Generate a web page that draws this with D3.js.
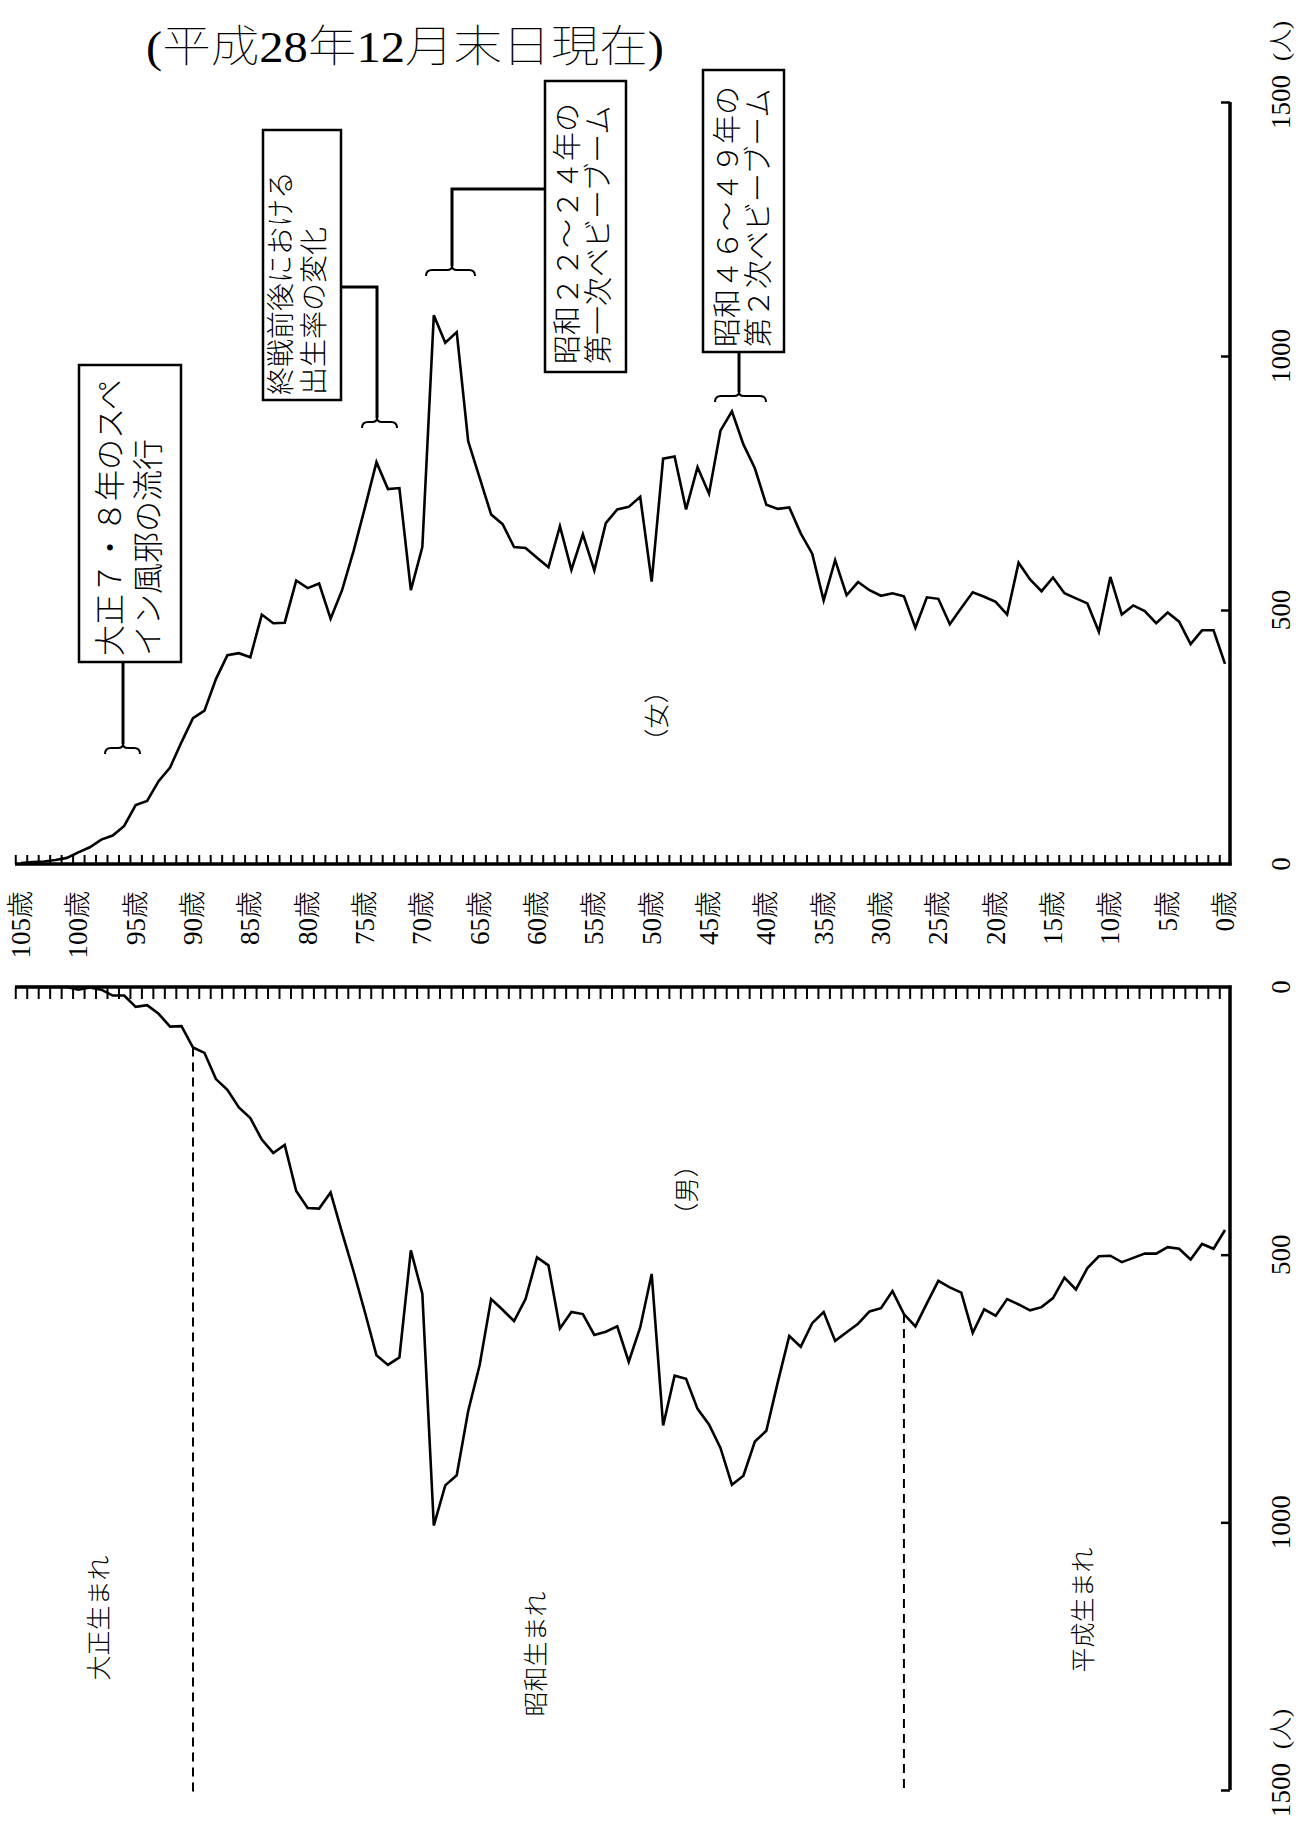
<!DOCTYPE html>
<html>
<head>
<meta charset="utf-8">
<script src="https://cdn.jsdelivr.net/npm/d3@7/dist/d3.min.js"></script>
<style>
  html, body { margin: 0; padding: 0; background: #fff; }
  svg { display: block; }
  text { font-family: "Liberation Serif", "DejaVu Serif", "Noto Sans CJK JP", serif; fill: #000; font-weight: 300; }
  text.thin { font-weight: 100; }
</style>
</head>
<body>
<svg id="chart" width="1315" height="1827"></svg>
<script>
// ---------- data ----------
const ages = d3.range(0, 106); // 0歳 … 105歳
const female = [394,460,460,433,477,495,474,498,509,491,
  565,457,513,523,533,564,537,560,593,491,
  516,526,535,504,472,522,525,465,527,533,
  528,539,555,529,598,519,611,651,702,699,
  707,779,826,891,853,729,781,698,802,798,
  556,723,703,698,671,578,649,579,665,584,
  603,622,624,669,688,760,832,1047,1026,1080,
  624,539,740,738,791,702,616,539,483,552,
  543,558,475,474,491,407,415,411,364,302,
  287,240,190,163,124,116,75,56,48,33,
  23,12,8,5,4,2];
const male = [454,489,480,509,489,486,498,498,506,514,
  502,503,525,565,543,581,598,604,593,583,
  614,602,646,571,561,549,591,634,611,568,
  600,606,629,645,661,607,628,672,652,738,
  829,849,913,930,861,817,788,732,726,819,
  536,636,700,634,644,650,611,607,638,520,
  505,583,624,603,583,706,792,912,931,1006,
  573,492,692,706,688,608,531,459,384,414,
  413,381,295,310,285,245,225,192,172,123,
  113,73,74,50,34,37,16,16,5,1,
  5,0,0,0,0,0];
const ageLabelValues = [0,5,10,15,20,25,30,35,40,45,50,55,60,65,70,75,80,85,90,95,100,105];
const valueTicks = [0,500,1000,1500];
const title = "(平成28年12月末日現在)";
const unitLabel = "(人)";
const femaleLabel = "（女）";
const maleLabel = "（男）";
const eraLabels = ["大正生まれ", "昭和生まれ", "平成生まれ"];
const eraBoundaryAges = [90, 28];
const notes = [
  ["大正７・８年のスペ", "イン風邪の流行"],
  ["終戦前後における", "出生率の変化"],
  ["昭和２２～２４年の", "第一次ベビーブーム"],
  ["昭和４６～４９年の", "第２次ベビーブーム"]
];

// ---------- layout ----------
const svg = d3.select("#chart");
const x = d3.scaleLinear().domain([0, 105]).range([1225, 21]);
const yF = d3.scaleLinear().domain([0, 1500]).range([864, 102]);
const yM = d3.scaleLinear().domain([0, 1500]).range([987, 1790]);
const axisX = 1230;

// title
svg.append("text").attr("class", "thin").attr("x", 146).attr("y", 62)
  .attr("font-size", 44).attr("textLength", 518).attr("lengthAdjust", "spacingAndGlyphs")
  .text(title);

// ---------- age axes ----------
const tickVals = ages.map(a => a + 0.5);
const gF = svg.append("g").attr("transform", "translate(0,864)")
  .call(d3.axisTop(x).tickValues(tickVals).tickSize(9).tickSizeOuter(0).tickFormat(""));
gF.select(".domain").remove();
gF.selectAll(".tick line").attr("stroke", "#000").attr("stroke-width", 2);
const gM = svg.append("g").attr("transform", "translate(0,987)")
  .call(d3.axisBottom(x).tickValues(tickVals).tickSize(12).tickSizeOuter(0).tickFormat(""));
gM.select(".domain").remove();
gM.selectAll(".tick line").attr("stroke", "#000").attr("stroke-width", 2);

svg.append("line").attr("x1", 15).attr("x2", axisX + 1.5).attr("y1", 864).attr("y2", 864)
  .attr("stroke", "#000").attr("stroke-width", 3.5);
svg.append("line").attr("x1", 15).attr("x2", axisX + 1.5).attr("y1", 987).attr("y2", 987)
  .attr("stroke", "#000").attr("stroke-width", 3.5);

// age labels
svg.append("g").selectAll("text").data(ageLabelValues).join("text")
  .attr("transform", d => `translate(${x(d)},891) rotate(-90)`)
  .attr("text-anchor", "end").attr("dominant-baseline", "central")
  .attr("font-size", 27)
  .text(d => d + "歳");

// ---------- value axes ----------
const gVF = svg.append("g").attr("transform", `translate(${axisX},0)`)
  .call(d3.axisLeft(yF).tickValues([500, 1000, 1500]).tickSize(9).tickSizeOuter(0).tickFormat(""));
gVF.select(".domain").remove();
gVF.selectAll(".tick line").attr("stroke", "#000").attr("stroke-width", 2.5);
const gVM = svg.append("g").attr("transform", `translate(${axisX},0)`)
  .call(d3.axisLeft(yM).tickValues([500, 1000, 1500]).tickSize(9).tickSizeOuter(0).tickFormat(""));
gVM.select(".domain").remove();
gVM.selectAll(".tick line").attr("stroke", "#000").attr("stroke-width", 2.5);

svg.append("line").attr("x1", axisX).attr("x2", axisX).attr("y1", yF(0) + 1.5).attr("y2", yF(1500))
  .attr("stroke", "#000").attr("stroke-width", 3.5);
svg.append("line").attr("x1", axisX).attr("x2", axisX).attr("y1", yM(0) - 1.5).attr("y2", yM(1500))
  .attr("stroke", "#000").attr("stroke-width", 3.5);

[yF, yM].forEach(sc => {
  svg.append("g").selectAll("text").data(valueTicks).join("text")
    .attr("transform", d => `translate(1281,${sc(d)}) rotate(-90)`)
    .attr("text-anchor", "middle").attr("dominant-baseline", "central")
    .attr("font-size", 27)
    .text(d => d);
  svg.append("text")
    .attr("transform", `translate(1281,${sc(1500) - 61}) rotate(-90)`)
    .attr("text-anchor", "middle").attr("dominant-baseline", "central")
    .attr("font-size", 24)
    .text(unitLabel);
});

// ---------- lines ----------
const lineF = d3.line().x((d, i) => x(ages[i])).y(d => yF(d));
const lineM = d3.line().x((d, i) => x(ages[i])).y(d => yM(d));
svg.append("path").attr("d", lineF(female)).attr("fill", "none")
  .attr("stroke", "#000").attr("stroke-width", 2.6);
svg.append("path").attr("d", lineM(male)).attr("fill", "none")
  .attr("stroke", "#000").attr("stroke-width", 2.6);

// era boundaries
eraBoundaryAges.forEach(a => {
  svg.append("line").attr("x1", x(a)).attr("x2", x(a))
    .attr("y1", yM(male[a])).attr("y2", 1794)
    .attr("stroke", "#000").attr("stroke-width", 2).attr("stroke-dasharray", "9,6");
});

// panel labels
function vtext(cx, cy, str, size, anchor) {
  return svg.append("text")
    .attr("transform", `translate(${cx},${cy}) rotate(-90)`)
    .attr("text-anchor", anchor || "middle").attr("dominant-baseline", "central")
    .attr("font-size", size).text(str);
}
vtext(657, 716, femaleLabel, 25);
vtext(687, 1190, maleLabel, 25);
vtext(99, 1618, eraLabels[0], 25);
vtext(536, 1654, eraLabels[1], 25);
vtext(1083, 1610, eraLabels[2], 25);

// ---------- annotation boxes ----------
const boxes = [
  {x0: 79, x1: 181, y0: 365, y1: 662, lx: [110, 148], ty: 656, fs: 31},
  {x0: 263, x1: 341, y0: 130, y1: 400, lx: [281, 314], ty: 395, fs: 28},
  {x0: 545, x1: 626, y0: 81, y1: 372, lx: [568, 599], ty: 364, fs: 29},
  {x0: 703, x1: 784, y0: 70, y1: 352, lx: [728, 759], ty: 347, fs: 29}
];
boxes.forEach((b, i) => {
  svg.append("rect").attr("x", b.x0).attr("y", b.y0)
    .attr("width", b.x1 - b.x0).attr("height", b.y1 - b.y0)
    .attr("fill", "#fff").attr("stroke", "#000").attr("stroke-width", 2.5);
  notes[i].forEach((t, j) => vtext(b.lx[j], b.ty, t, b.fs, "start"));
});

const connectors = [
  [[123, 662], [123, 744]],
  [[341, 287], [377, 287], [377, 418]],
  [[545, 189], [452, 189], [452, 266]],
  [[739, 352], [739, 392]]
];
connectors.forEach(pts => {
  svg.append("path").attr("d", d3.line()(pts)).attr("fill", "none")
    .attr("stroke", "#000").attr("stroke-width", 3);
});

const braces = [
  {xa: 105, xb: 140, xm: 123, y: 744},
  {xa: 362, xb: 397, xm: 377, y: 418},
  {xa: 426, xb: 475, xm: 452, y: 266},
  {xa: 715, xb: 766, xm: 739, y: 392}
];
braces.forEach(b => {
  const y0 = b.y, ym = b.y + 4, ye = b.y + 10;
  const p = d3.path();
  p.moveTo(b.xa, ye);
  p.quadraticCurveTo(b.xa, ym, b.xa + 6, ym);
  p.lineTo(b.xm - 5, ym);
  p.quadraticCurveTo(b.xm, ym, b.xm, y0);
  p.quadraticCurveTo(b.xm, ym, b.xm + 5, ym);
  p.lineTo(b.xb - 6, ym);
  p.quadraticCurveTo(b.xb, ym, b.xb, ye);
  svg.append("path").attr("d", p.toString()).attr("fill", "none")
    .attr("stroke", "#000").attr("stroke-width", 2);
});
</script>
</body>
</html>
